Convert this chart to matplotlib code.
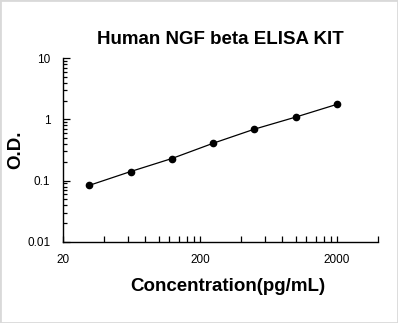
import matplotlib
matplotlib.use("Agg")
import matplotlib.pyplot as plt
import matplotlib.ticker as mticker
from matplotlib.patches import Rectangle

# standard curve
conc = [31.25, 62.5, 125, 250, 500, 1000, 2000]
od = [0.084, 0.141, 0.23, 0.408, 0.693, 1.09, 1.76]

x_ticks = [20, 200, 2000]
x_tick_labels = ["20", "200", "2000"]
y_ticks = [0.01, 0.1, 1, 10]
y_tick_labels = ["0.01", "0.1", "1", "10"]

plt.rcParams['font.family'] = ['Liberation Sans', 'DejaVu Sans']

fig = plt.figure(figsize=(3.98, 3.23), dpi=100)
ax = fig.add_axes([0.158, 0.251, 0.792, 0.569])

ax.plot(conc, od, color='black', lw=0.9, marker='o', markersize=4.5,
        markerfacecolor='black', markeredgecolor='black')

ax.set_xscale('log')
ax.set_yscale('log')
ax.set_xlim(20, 4000)
ax.set_ylim(0.01, 10)

ax.xaxis.set_major_locator(mticker.FixedLocator(x_ticks))
ax.xaxis.set_major_formatter(mticker.FixedFormatter(x_tick_labels))
ax.xaxis.set_minor_locator(mticker.FixedLocator(
    [20 * k for k in range(2, 10)] + [200 * k for k in range(2, 10)] + [4000]))
ax.xaxis.set_minor_formatter(mticker.NullFormatter())

ax.yaxis.set_major_locator(mticker.FixedLocator(y_ticks))
ax.yaxis.set_major_formatter(mticker.FixedFormatter(y_tick_labels))
ax.yaxis.set_minor_locator(mticker.LogLocator(base=10, subs=range(2, 10)))
ax.yaxis.set_minor_formatter(mticker.NullFormatter())

ax.tick_params(axis='x', which='both', direction='in', length=4, width=0.9,
               pad=9, labelsize=8.5)
ax.tick_params(axis='y', which='major', direction='in', length=5, width=0.9,
               pad=9, labelsize=8.5)
ax.tick_params(axis='y', which='minor', direction='in', length=3, width=0.9)

for s in ['top', 'right']:
    ax.spines[s].set_visible(False)
for s in ['left', 'bottom']:
    ax.spines[s].set_linewidth(1.0)

ax.set_title("Human NGF beta ELISA KIT", fontsize=13.5, fontweight='bold', pad=10)
ax.set_xlabel("Concentration(pg/mL)", fontsize=13.5, fontweight='bold')
ax.xaxis.set_label_coords(0.524, -0.195)
ax.set_ylabel("O.D.", fontsize=13.5, fontweight='bold', labelpad=2)

fig.patches.append(Rectangle((0, 0), 1, 1, transform=fig.transFigure,
                             fill=False, edgecolor='#d9d9d9', lw=2))

fig.savefig("out.png", dpi=100)
